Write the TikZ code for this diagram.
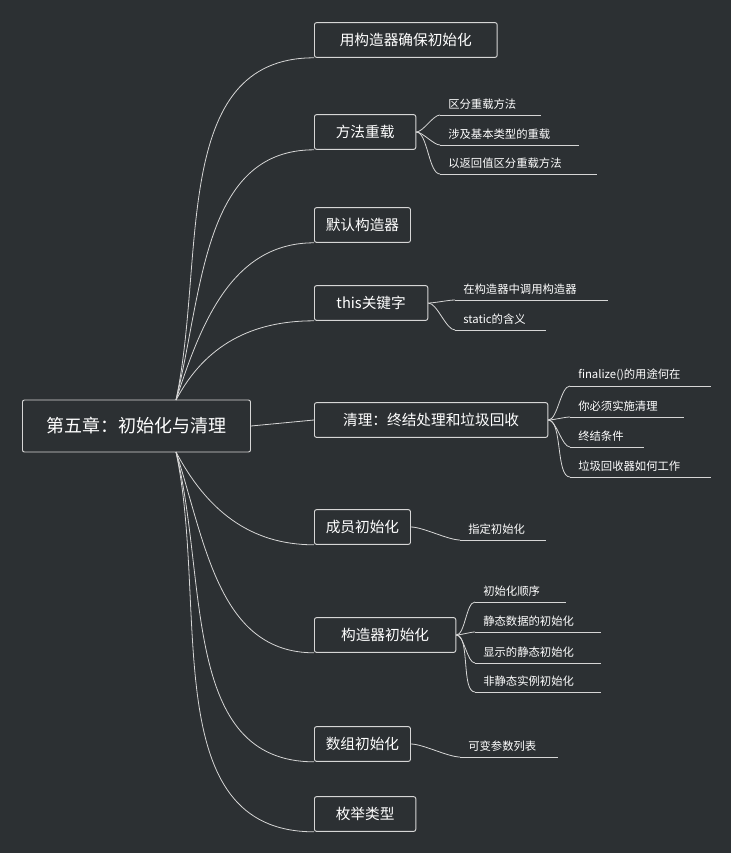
\documentclass[tikz,border=0pt]{standalone}
\usepackage{fontspec}
\newfontfamily\cjk{Noto Sans CJK SC}
\definecolor{bg}{HTML}{2C3033}
\definecolor{ln}{HTML}{D6D6D6}
\begin{document}
\begin{tikzpicture}[x=0.75pt,y=-0.75pt,
  box/.style={draw=ln,line width=0.7pt,rounded corners=1.5pt,text=white,font=\cjk\fontsize{11}{13}\selectfont,anchor=west,inner xsep=6pt,minimum height=26pt},
  leaf/.style={text=white,font=\cjk\fontsize{8.5}{10}\selectfont,anchor=south west,inner sep=2pt,inner xsep=6pt,align=left,text width=#1-12pt,minimum height=16pt},
  con/.style={draw=ln,line width=0.6pt},
  ul/.style={draw=ln,line width=0.7pt}]
\fill[bg] (0,0) rectangle (731,853);
\useasboundingbox (0,0) rectangle (731,853);
\node[box,minimum width=171pt,minimum height=39pt,font=\cjk\fontsize{13.5}{16}\selectfont] (root) at (22,426) {第五章：初始化与清理};
\coordinate (ru) at (176,400);
\coordinate (rd) at (176,452);
\node[box,minimum width=137pt] (b1) at (314,40) {用构造器确保初始化};
\node[box,minimum width=76pt] (b2) at (314,132) {方法重载};
\node[box,minimum width=72pt] (b3) at (314,225) {默认构造器};
\node[box,minimum width=85pt] (b4) at (314,303) {this关键字};
\node[box,minimum width=175pt] (b5) at (314,420) {清理：终结处理和垃圾回收};
\node[box,minimum width=72pt] (b6) at (314,527) {成员初始化};
\node[box,minimum width=106pt] (b7) at (314,635) {构造器初始化};
\node[box,minimum width=72pt] (b8) at (314,744) {数组初始化};
\node[box,minimum width=76pt] (b9) at (314,814) {枚举类型};
\draw[con] (ru) to[out=78,in=180] (b1.south west);
\draw[con] (ru) to[out=76,in=180] (b2.south west);
\draw[con] (ru) to[out=72,in=180] (b3.south west);
\draw[con] (ru) to[out=62,in=180] (b4.south west);
\draw[con] (root.east) -- (b5.west);
\draw[con] (rd) to[out=-62,in=180] (b6.south west);
\draw[con] (rd) to[out=-72,in=180] (b7.south west);
\draw[con] (rd) to[out=-76,in=180] (b8.south west);
\draw[con] (rd) to[out=-78,in=180] (b9.south west);
% leaves
\node[leaf=75pt] (l21) at (440,115) {区分重载方法};
\node[leaf=104pt] (l22) at (440,145) {涉及基本类型的重载};
\node[leaf=117pt] (l23) at (440,174) {以返回值区分重载方法};
\node[leaf=114pt] (l41) at (455,300) {在构造器中调用构造器};
\node[leaf=68pt] (l42) at (455,330) {static的含义};
\node[leaf=105pt] (l51) at (570,386) {finalize()的用途何在};
\node[leaf=85pt] (l52) at (570,417) {你必须实施清理};
\node[leaf=55pt] (l53) at (570,447) {终结条件};
\node[leaf=105pt] (l54) at (570,477) {垃圾回收器如何工作};
\node[leaf=64pt] (l61) at (460,540) {指定初始化};
\node[leaf=68pt] (l71) at (475,602) {初始化顺序};
\node[leaf=94pt] (l72) at (475,632) {静态数据的初始化};
\node[leaf=94pt] (l73) at (475,663) {显示的静态初始化};
\node[leaf=94pt] (l74) at (475,692) {非静态实例初始化};
\node[leaf=73pt] (l81) at (460,757) {可变参数列表};
\foreach \l in {l21,l22,l23,l41,l42,l51,l52,l53,l54,l61,l71,l72,l73,l74,l81}
  \draw[ul] (\l.south west) -- (\l.south east);
\foreach \b/\l in {b2/l21,b2/l22,b2/l23,b4/l41,b4/l42,b5/l51,b5/l52,b5/l53,b5/l54,b6/l61,b7/l71,b7/l72,b7/l73,b7/l74,b8/l81}
  \draw[con] (\b.east) to[out=0,in=180,looseness=0.6] (\l.south west);
\end{tikzpicture}
\end{document}
